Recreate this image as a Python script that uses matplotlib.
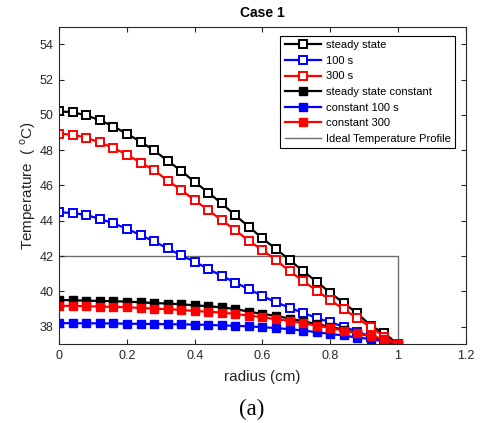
import matplotlib
matplotlib.use('Agg')
import matplotlib.pyplot as plt

plt.rcParams['font.family'] = ['Liberation Sans', 'DejaVu Sans']
plt.rcParams['mathtext.fontset'] = 'custom'
plt.rcParams['mathtext.rm'] = 'Liberation Sans'

# %% Data
radius = [0.00, 0.04, 0.08, 0.12, 0.16, 0.20, 0.24, 0.28, 0.32, 0.36,
          0.40, 0.44, 0.48, 0.52, 0.56, 0.60, 0.64, 0.68, 0.72, 0.76,
          0.80, 0.84, 0.88, 0.92, 0.96, 1.00]

steady = [50.20, 50.15, 49.97, 49.70, 49.34, 48.93, 48.48, 47.99, 47.40, 46.83,
          46.20, 45.60, 44.98, 44.30, 43.66, 43.00, 42.40, 41.78, 41.15, 40.55,
          39.93, 39.33, 38.76, 38.05, 37.63, 37.00]
t100 = [44.47, 44.45, 44.32, 44.11, 43.85, 43.55, 43.19, 42.83, 42.43, 42.04,
        41.68, 41.27, 40.87, 40.50, 40.12, 39.74, 39.38, 39.08, 38.78, 38.50,
        38.25, 38.00, 37.72, 37.44, 37.20, 37.00]
t300 = [48.93, 48.88, 48.70, 48.44, 48.12, 47.75, 47.30, 46.86, 46.28, 45.75,
        45.16, 44.60, 44.03, 43.47, 42.86, 42.34, 41.77, 41.15, 40.59, 40.04,
        39.51, 38.99, 38.48, 37.97, 37.44, 37.00]
const_ss = [39.51, 39.50, 39.47, 39.46, 39.44, 39.42, 39.38, 39.34, 39.31, 39.27,
            39.21, 39.16, 39.09, 39.00, 38.85, 38.72, 38.61, 38.46, 38.31, 38.14,
            38.00, 37.82, 37.63, 37.44, 37.25, 37.00]
const_100 = [38.20, 38.20, 38.19, 38.19, 38.18, 38.17, 38.16, 38.15, 38.14, 38.13,
             38.12, 38.10, 38.07, 38.05, 38.02, 37.97, 37.92, 37.86, 37.78, 37.69,
             37.59, 37.50, 37.38, 37.30, 37.16, 37.00]
const_300 = [39.18, 39.18, 39.16, 39.14, 39.12, 39.10, 39.06, 39.02, 38.99, 38.95,
             38.89, 38.84, 38.80, 38.72, 38.63, 38.54, 38.42, 38.33, 38.20, 38.06,
             37.92, 37.78, 37.63, 37.48, 37.30, 37.00]

ideal_r = [0.0, 1.0, 1.0]
ideal_T = [42.0, 42.0, 37.0]

# %% Figure
fig = plt.figure(figsize=(4.82, 4.23), dpi=100)
ax = fig.add_axes([0.123, 0.186, 0.843, 0.751])

open_kw = dict(marker='s', markersize=5.3, markerfacecolor='white',
               markeredgewidth=1.4, linewidth=1.6)
fill_kw = dict(marker='s', markersize=5.8, markeredgewidth=1.0, linewidth=1.6)

ax.plot(radius, steady, color='k', label='steady state', **open_kw)
ax.plot(radius, t100, color='#0000ff', label='100 s', **open_kw)
ax.plot(radius, t300, color='#ff0000', label='300 s', **open_kw)
ax.plot(radius, const_ss, color='k', label='steady state constant', **fill_kw)
ax.plot(radius, const_100, color='#0000ff', label='constant 100 s', **fill_kw)
ax.plot(radius, const_300, color='#ff0000', label='constant 300', **fill_kw)
ax.plot(ideal_r, ideal_T, color='#6e6e6e', linewidth=1.0,
        label='Ideal Temperature Profile', zorder=1.5)

ax.set_xlim(0, 1.2)
ax.set_ylim(37, 55)
ax.set_xticks([0, 0.2, 0.4, 0.6, 0.8, 1, 1.2])
ax.set_xticklabels(['0', '0.2', '0.4', '0.6', '0.8', '1', '1.2'])
ax.set_yticks([38, 40, 42, 44, 46, 48, 50, 52, 54])
ax.tick_params(direction='in', top=True, right=True, length=3.5,
               width=0.8, labelsize=9, colors='#262626', pad=4)
for s in ax.spines.values():
    s.set_linewidth(0.8)
    s.set_color('#262626')

ax.set_xlabel('radius (cm)', fontsize=11, color='#262626', labelpad=6)
ax.set_ylabel('Temperature  ( $^{\\mathrm{o}}$C)', fontsize=11,
              color='#262626', labelpad=1)
ax.set_title('Case 1', fontsize=10, fontweight='bold', pad=7)

leg = ax.legend(loc='upper right', bbox_to_anchor=(0.974, 0.971),
                borderaxespad=0, numpoints=1, fontsize=8, handlelength=3.3,
                fancybox=False, framealpha=1, edgecolor='k',
                labelspacing=0.5, borderpad=0.4, handletextpad=0.4)
leg.get_frame().set_linewidth(0.8)

fig.text(0.523, 0.008, '(a)', fontsize=16.5, family='Liberation Serif',
         ha='center', va='bottom')

fig.savefig('out.png', dpi=100)
